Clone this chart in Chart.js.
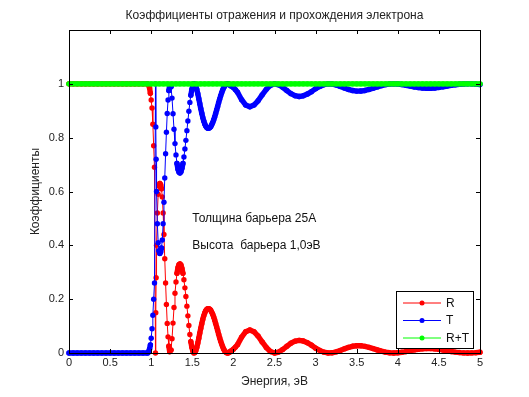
<!DOCTYPE html>
<html>
<head>
<meta charset="utf-8">
<script src="https://cdn.jsdelivr.net/npm/chart.js@4.4.0/dist/chart.umd.min.js"></script>
<style>
  html, body { margin: 0; padding: 0; background: #fff; }
</style>
</head>
<body>
<canvas id="grafica" width="529" height="397"></canvas>
<script>
// energy grid, eV (denser near the barrier top)
const energy = [
  0, 0.05, 0.1, 0.15, 0.2, 0.25, 0.3, 0.35, 0.4, 0.45,
  0.5, 0.55, 0.6, 0.65, 0.7, 0.75, 0.8, 0.85, 0.9,
  0.95, 0.96, 0.97, 0.98, 0.99, 1.0, 1.01, 1.02, 1.03, 1.04,
  1.052, 1.056, 1.06, 1.065, 1.075, 1.085, 1.095, 1.105, 1.115, 1.125,
  1.135, 1.145, 1.155, 1.165, 1.175, 1.185, 1.195, 1.205, 1.215, 1.225,
  1.241, 1.2533, 1.2654, 1.2774, 1.2895, 1.3016, 1.3136, 1.3257, 1.3378, 1.3498,
  1.3619, 1.3739, 1.386, 1.3981, 1.4101, 1.4222, 1.4343, 1.4463, 1.4584, 1.4704,
  1.4825, 1.4946, 1.5066, 1.5187, 1.5308, 1.5428, 1.5549, 1.5669, 1.579,
  1.5911, 1.6031, 1.6152, 1.6273, 1.6393, 1.6514, 1.6634, 1.6755, 1.6876, 1.6996,
  1.7117, 1.7238, 1.7358, 1.7479, 1.7599, 1.772, 1.7841, 1.7961, 1.8082, 1.8203,
  1.8323, 1.8444, 1.8564, 1.8685, 1.8806, 1.8926, 1.9047, 1.9168, 1.9288, 1.9409,
  1.953, 1.965, 2.0, 2.025,
  2.05, 2.1, 2.15, 2.2, 2.25, 2.3, 2.35, 2.4, 2.45, 2.5,
  2.55, 2.6, 2.65, 2.7, 2.75, 2.8, 2.85, 2.9, 2.95, 3.0,
  3.05, 3.1, 3.15, 3.2, 3.25, 3.3, 3.35, 3.4, 3.45, 3.5,
  3.55, 3.6, 3.65, 3.7, 3.75, 3.8, 3.85, 3.9, 3.95, 4.0,
  4.05, 4.1, 4.15, 4.2, 4.25, 4.3, 4.35, 4.4, 4.45, 4.5,
  4.55, 4.6, 4.65, 4.7, 4.75, 4.8, 4.85, 4.9, 4.95, 5.0
];

// R - reflection coefficient
const reflection = [
  1, 1, 1, 1, 1, 1, 1, 1, 1, 1,
  1, 1, 1, 1, 1, 1, 1, 1, 1,
  1, 1, 0.995, 0.985, 0.965, 0.94, 0.91, 0.85, 0.77, 0.69,
  0, 0.15, 0.28, 0.40, 0.52, 0.59, 0.62, 0.63, 0.625, 0.61,
  0.58, 0.52, 0.44, 0.35, 0.26, 0.18, 0.11, 0.06, 0.025, 0.005,
  0.011, 0.053, 0.111, 0.169, 0.222, 0.264, 0.296, 0.317, 0.328, 0.331,
  0.327, 0.314, 0.296, 0.272, 0.242, 0.210, 0.174, 0.138, 0.102, 0.069,
  0.042, 0.021, 0.007, 0.0004, 0.0015, 0.009, 0.021, 0.037, 0.055,
  0.074, 0.092, 0.109, 0.125, 0.138, 0.149, 0.157, 0.162, 0.165, 0.165,
  0.163, 0.159, 0.152, 0.144, 0.134, 0.123, 0.110, 0.097, 0.084, 0.070,
  0.057, 0.045, 0.034, 0.024, 0.015, 0.0086, 0.0039, 0.001, 0, 0.0008,
  0.0031, 0.0069, 0.014, 0.022,
  0.031, 0.059, 0.079, 0.0855, 0.079, 0.063, 0.041, 0.0205, 0.0057, 0,
  0.0034, 0.013, 0.025, 0.0365, 0.044, 0.047, 0.0445, 0.038, 0.029, 0.018,
  0.0098, 0.0032, 0.0002, 0.0007, 0.0042, 0.0095, 0.0154, 0.0208, 0.0249, 0.027,
  0.0269, 0.0247, 0.021, 0.0163, 0.0114, 0.0067, 0.003, 0.0008, 0, 0.0007,
  0.0026, 0.0054, 0.0085, 0.0115, 0.014, 0.0158, 0.0166, 0.0164, 0.0153, 0.0134,
  0.011, 0.0083, 0.0057, 0.0033, 0.0016, 0.0004, 0, 0.0003, 0.0012, 0.0026
];

// T - transmission coefficient
const transmission = [
  0, 0, 0, 0, 0, 0, 0, 0, 0, 0,
  0, 0, 0, 0, 0, 0, 0, 0, 0,
  0, 0.002, 0.006, 0.015, 0.03, 0.055, 0.09, 0.14, 0.20, 0.26,
  1, 0.84, 0.72, 0.60, 0.48, 0.41, 0.38, 0.37, 0.375, 0.39,
  0.42, 0.48, 0.56, 0.65, 0.74, 0.82, 0.89, 0.94, 0.975, 0.995,
  0.989, 0.947, 0.889, 0.831, 0.778, 0.736, 0.704, 0.683, 0.672, 0.669,
  0.673, 0.686, 0.704, 0.728, 0.758, 0.790, 0.826, 0.862, 0.898, 0.931,
  0.958, 0.979, 0.993, 0.9996, 0.9985, 0.991, 0.979, 0.963, 0.945,
  0.926, 0.908, 0.891, 0.875, 0.862, 0.851, 0.843, 0.838, 0.835, 0.835,
  0.837, 0.841, 0.848, 0.856, 0.866, 0.877, 0.890, 0.903, 0.916, 0.930,
  0.943, 0.955, 0.966, 0.976, 0.985, 0.9914, 0.9961, 0.999, 1, 0.9992,
  0.9969, 0.9931, 0.986, 0.978,
  0.969, 0.941, 0.921, 0.9145, 0.921, 0.937, 0.959, 0.9795, 0.9943, 1,
  0.9966, 0.987, 0.975, 0.9635, 0.956, 0.953, 0.9555, 0.962, 0.971, 0.982,
  0.9902, 0.9968, 0.9998, 0.9993, 0.9958, 0.9905, 0.9846, 0.9792, 0.9751, 0.973,
  0.9731, 0.9753, 0.979, 0.9837, 0.9886, 0.9933, 0.997, 0.9992, 1, 0.9993,
  0.9974, 0.9946, 0.9915, 0.9885, 0.986, 0.9842, 0.9834, 0.9836, 0.9847, 0.9866,
  0.989, 0.9917, 0.9943, 0.9967, 0.9984, 0.9996, 1, 0.9997, 0.9988, 0.9974
];

// R+T
const sumEnergy = [
  0, 0.05, 0.1, 0.15, 0.2, 0.25, 0.3, 0.35, 0.4, 0.45,
  0.5, 0.55, 0.6, 0.65, 0.7, 0.75, 0.8, 0.85, 0.9, 0.95,
  1.0, 1.05, 1.1, 1.15, 1.2, 1.25, 1.3, 1.35, 1.4, 1.45,
  1.5, 1.55, 1.6, 1.65, 1.7, 1.75, 1.8, 1.85, 1.9, 1.95,
  2.0, 2.05, 2.1, 2.15, 2.2, 2.25, 2.3, 2.35, 2.4, 2.45,
  2.5, 2.55, 2.6, 2.65, 2.7, 2.75, 2.8, 2.85, 2.9, 2.95,
  3.0, 3.05, 3.1, 3.15, 3.2, 3.25, 3.3, 3.35, 3.4, 3.45,
  3.5, 3.55, 3.6, 3.65, 3.7, 3.75, 3.8, 3.85, 3.9, 3.95,
  4.0, 4.05, 4.1, 4.15, 4.2, 4.25, 4.3, 4.35, 4.4, 4.45,
  4.5, 4.55, 4.6, 4.65, 4.7, 4.75, 4.8, 4.85, 4.9, 4.95,
  5.0
];
const sumValues = [
  1, 1, 1, 1, 1, 1, 1, 1, 1, 1,
  1, 1, 1, 1, 1, 1, 1, 1, 1, 1,
  1, 1, 1, 1, 1, 1, 1, 1, 1, 1,
  1, 1, 1, 1, 1, 1, 1, 1, 1, 1,
  1, 1, 1, 1, 1, 1, 1, 1, 1, 1,
  1, 1, 1, 1, 1, 1, 1, 1, 1, 1,
  1, 1, 1, 1, 1, 1, 1, 1, 1, 1,
  1, 1, 1, 1, 1, 1, 1, 1, 1, 1,
  1, 1, 1, 1, 1, 1, 1, 1, 1, 1,
  1, 1, 1, 1, 1, 1, 1, 1, 1, 1,
  1
];

const xTicks = [0, 0.5, 1, 1.5, 2, 2.5, 3, 3.5, 4, 4.5, 5];
const yTicks = [0, 0.2, 0.4, 0.6, 0.8, 1, 1.2];
const titulo = 'Коэффициенты отражения и прохождения электрона';
const notes = ['Толщина барьера 25А', 'Высота  барьера 1,0эВ'];

const FONT = "'Liberation Sans', Arial, sans-serif";
const RED = 'rgb(255,0,0)';
const BLUE = 'rgb(0,0,255)';
const GREEN = 'rgb(0,255,0)';
const DOT = 2.7;

function pares(xs, ys) {
  return xs.map((x, i) => ({ x: x, y: ys[i] }));
}

// the original was sampled about once per pixel of x, so its markers
// merge into a solid band wherever the curve is not steep
function anchoTramo(c) {
  const dx = Math.abs(c.p1.x - c.p0.x);
  const d = Math.hypot(dx, c.p1.y - c.p0.y);
  return d / Math.max(dx, 1) < 6 ? DOT * 2 : 1;
}

function serie(label, xs, ys, color, order) {
  return {
    label: label,
    data: pares(xs, ys),
    borderColor: color,
    backgroundColor: color,
    borderWidth: 1,
    borderCapStyle: 'round',
    borderJoinStyle: 'round',
    segment: { borderWidth: anchoTramo },
    pointRadius: DOT,
    pointBorderWidth: 0,
    pointHoverRadius: 0,
    tension: 0,
    clip: false,
    order: order
  };
}

// box with inward ticks on all four sides, like matlab axes
const marcoPlugin = {
  id: 'marco',
  afterDatasetsDraw(chart) {
    const { ctx, chartArea: a, scales } = chart;
    ctx.save();
    ctx.strokeStyle = '#000';
    ctx.lineWidth = 1;
    ctx.strokeRect(a.left + 0.5, a.top + 0.5, a.right - a.left, a.bottom - a.top);
    ctx.beginPath();
    xTicks.forEach(v => {
      const px = Math.round(scales.x.getPixelForValue(v)) + 0.5;
      ctx.moveTo(px, a.bottom); ctx.lineTo(px, a.bottom - 4);
      ctx.moveTo(px, a.top); ctx.lineTo(px, a.top + 4);
    });
    yTicks.forEach(v => {
      const py = Math.round(scales.y.getPixelForValue(v)) + 0.5;
      ctx.moveTo(a.left, py); ctx.lineTo(a.left + 4, py);
      ctx.moveTo(a.right, py); ctx.lineTo(a.right - 4, py);
    });
    ctx.stroke();

    // title over the axes
    ctx.fillStyle = '#222';
    ctx.font = '12px ' + FONT;
    ctx.textAlign = 'center';
    ctx.textBaseline = 'middle';
    ctx.fillText(titulo, (a.left + a.right) / 2, 16);

    // text notes placed at data coordinates
    ctx.fillStyle = '#111';
    ctx.textAlign = 'left';
    const nx = scales.x.getPixelForValue(1.5);
    ctx.fillText(notes[0], nx, scales.y.getPixelForValue(0.5));
    ctx.fillText(notes[1], nx, scales.y.getPixelForValue(0.4));
    ctx.restore();
  },
  afterDraw(chart) {
    // legend inside the axes, bottom right
    const { ctx } = chart;
    const items = chart.data.datasets;
    const bx = 396.5, by = 291.5, bw = 77, bh = 57;
    ctx.save();
    ctx.fillStyle = '#fff';
    ctx.fillRect(bx, by, bw, bh);
    ctx.strokeStyle = '#000';
    ctx.lineWidth = 1;
    ctx.strokeRect(bx, by, bw, bh);
    ctx.font = '12px ' + FONT;
    ctx.textBaseline = 'middle';
    items.forEach((ds, i) => {
      const yy = 303 + i * 17.5;
      ctx.strokeStyle = ds.borderColor;
      ctx.beginPath();
      ctx.moveTo(403, yy);
      ctx.lineTo(441, yy);
      ctx.stroke();
      ctx.fillStyle = ds.borderColor;
      ctx.beginPath();
      ctx.arc(422, yy, 2.5, 0, Math.PI * 2);
      ctx.fill();
      ctx.fillStyle = '#111';
      ctx.fillText(ds.label, 446, yy + 0.5);
    });
    ctx.restore();
  }
};

const ctx = document.getElementById('grafica').getContext('2d');
new Chart(ctx, {
  type: 'line',
  data: {
    datasets: [
      serie('R', energy, reflection, RED, 3),
      serie('T', energy, transmission, BLUE, 2),
      serie('R+T', sumEnergy, sumValues, GREEN, 1)
    ]
  },
  options: {
    responsive: false,
    animation: false,
    events: [],
    layout: { padding: { left: 0, right: 49, top: 30, bottom: 0 } },
    plugins: {
      legend: { display: false },
      tooltip: { enabled: false },
      title: { display: false }
    },
    scales: {
      x: {
        type: 'linear',
        min: 0,
        max: 5,
        afterFit: s => { s.height = 44; },
        afterBuildTicks: s => { s.ticks = xTicks.map(v => ({ value: v })); },
        ticks: {
          padding: 3,
          color: '#222',
          font: { family: FONT, size: 11 },
          maxRotation: 0,
          autoSkip: false,
          callback: v => String(v)
        },
        grid: { display: false, drawTicks: false },
        border: { display: false },
        title: {
          display: true,
          text: 'Энергия, эВ',
          color: '#222',
          font: { family: FONT, size: 12 },
          padding: { top: 0, bottom: 8 }
        }
      },
      y: {
        min: 0,
        max: 1.2,
        afterFit: s => { s.width = 69; },
        afterBuildTicks: s => { s.ticks = yTicks.map(v => ({ value: v })); },
        ticks: {
          padding: 5,
          color: '#222',
          font: { family: FONT, size: 11 },
          callback: v => (v > 1.1 ? '' : String(Math.round(v * 10) / 10))
        },
        grid: { display: false, drawTicks: false },
        border: { display: false },
        title: {
          display: true,
          text: 'Коэффициенты',
          color: '#222',
          font: { family: FONT, size: 12 },
          padding: { top: 28, bottom: 0 }
        }
      }
    }
  },
  plugins: [marcoPlugin]
});
</script>
</body>
</html>
